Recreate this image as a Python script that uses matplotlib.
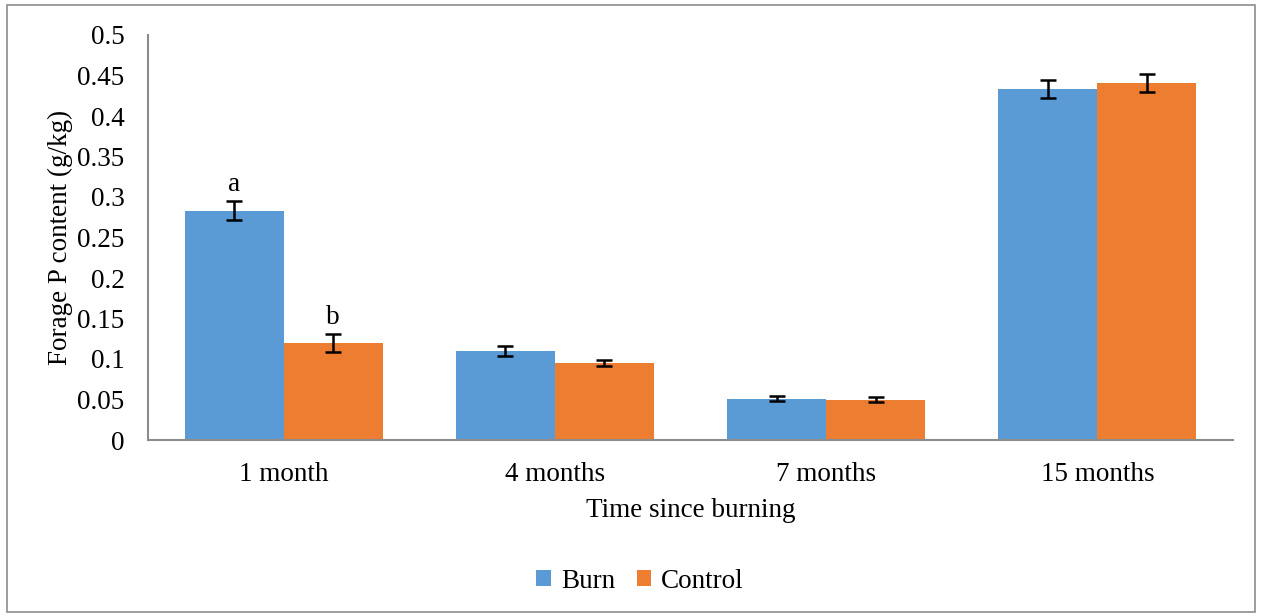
import matplotlib
matplotlib.use("Agg")
import matplotlib.pyplot as plt
import numpy as np
from matplotlib.patches import Rectangle

categories = ["1 month", "4 months", "7 months", "15 months"]
burn = [0.283, 0.110, 0.051, 0.433]
control = [0.120, 0.095, 0.050, 0.441]
burn_err = [0.012, 0.006, 0.003, 0.011]
control_err = [0.011, 0.004, 0.003, 0.011]
burn_letters = ["a", "", "", ""]
control_letters = ["b", "", "", ""]
yticks = [0, 0.05, 0.1, 0.15, 0.2, 0.25, 0.3, 0.35, 0.4, 0.45, 0.5]
ytick_labels = ["0", "0.05", "0.1", "0.15", "0.2", "0.25", "0.3", "0.35", "0.4", "0.45", "0.5"]

plt.rcParams['font.family'] = ['Liberation Serif', 'DejaVu Serif']
FS = 19.5

fig = plt.figure(figsize=(12.61, 6.16), dpi=100)
fig.patches.append(Rectangle((7/1261, 4/616), 1248/1261, 607/616, transform=fig.transFigure,
                             fill=False, edgecolor='#8c8c8c', linewidth=1.2))
ax = fig.add_axes([148/1261, 1-440/616, 1085/1261, 405/616])

x = np.arange(len(categories))
w = 0.365
blue = '#5b9bd5'
orange = '#ed7d31'
ax.bar(x - w/2, burn, w, color=blue, label='Burn', zorder=2)
ax.bar(x + w/2, control, w, color=orange, label='Control', zorder=2)
ax.errorbar(x - w/2, burn, yerr=burn_err, fmt='none', ecolor='black', elinewidth=1.8,
            capsize=6, capthick=1.8, zorder=3)
ax.errorbar(x + w/2, control, yerr=control_err, fmt='none', ecolor='black', elinewidth=1.8,
            capsize=6, capthick=1.8, zorder=3)
for i in range(len(categories)):
    if burn_letters[i]:
        ax.text(x[i] - w/2, burn[i] + burn_err[i] + 0.005, burn_letters[i], ha='center', va='bottom', fontsize=FS)
    if control_letters[i]:
        ax.text(x[i] + w/2, control[i] + control_err[i] + 0.005, control_letters[i], ha='center', va='bottom', fontsize=FS)

ax.set_xlim(-0.5, len(categories) - 0.5)
ax.set_ylim(0, 0.5)
ax.set_yticks(yticks)
ax.set_yticklabels(ytick_labels, fontsize=FS)
ax.set_xticks(x)
ax.set_xticklabels(categories, fontsize=FS)
ax.tick_params(axis='y', length=0, pad=17)
ax.tick_params(axis='x', length=0, pad=16)
for s in ['top', 'right']:
    ax.spines[s].set_visible(False)
for s in ['left', 'bottom']:
    ax.spines[s].set_color('#8c8c8c')
    ax.spines[s].set_linewidth(1.5)
ax.set_ylabel('Forage P content (g/kg)', fontsize=FS, labelpad=3)
ax.set_xlabel('Time since burning', fontsize=FS, labelpad=8)

fig.legend(loc='center', bbox_to_anchor=(640/1261, 1-581/616), ncol=2, frameon=False, fontsize=FS,
           handlelength=0.55, handleheight=0.55, handletextpad=0.35, columnspacing=0.8)

fig.savefig('out.png', dpi=100)
